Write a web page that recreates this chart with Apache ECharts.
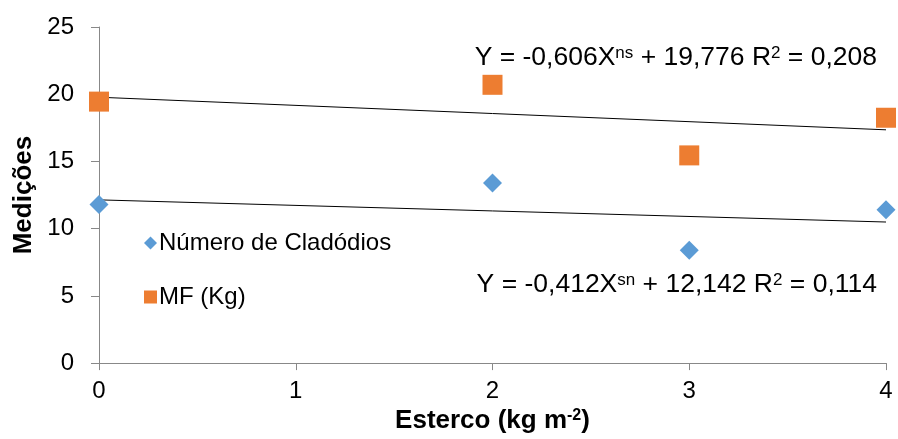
<!DOCTYPE html>
<html><head><meta charset="utf-8">
<script src="https://cdn.jsdelivr.net/npm/echarts@6/dist/echarts.min.js"></script>
<style>html,body{margin:0;padding:0;background:#fff}#c{width:898px;height:439px}</style>
</head><body><div id="c"></div>
<script>
const xValues = [0, 2, 3, 4];
const cladodios = [11.8, 13.4, 8.4, 11.4];
const mf = [19.45, 20.7, 15.45, 18.25];
const trendMF = { slope: -0.606, intercept: 19.776 };
const trendClad = { slope: -0.412, intercept: 12.142 };
const xTicks = [0, 1, 2, 3, 4];
const yTicks = [0, 5, 10, 15, 20, 25];

const F = 'Liberation Sans, Arial, Helvetica, sans-serif';
const chart = echarts.init(document.getElementById('c'), null, {renderer: 'canvas'});
const line = (t) => [[xTicks[0], t.intercept + t.slope * xTicks[0]], [xTicks[xTicks.length-1], t.intercept + t.slope * xTicks[xTicks.length-1]]];
const supStyle = { fontFamily: F, fontSize: 17, fill: '#000', verticalAlign: 'top', padding: [0,0,9,0] };

chart.setOption({
  animation: false,
  backgroundColor: '#fff',
  grid: { left: 99, right: 12, top: 27, bottom: 72 },
  xAxis: {
    type: 'value', min: xTicks[0], max: xTicks[xTicks.length-1], interval: 1,
    name: 'Esterco (kg m{sup|-2})', nameLocation: 'middle', nameGap: 42,
    nameTextStyle: { fontFamily: F, fontSize: 26, fontWeight: 'bold', color: '#000',
      rich: { sup: { fontFamily: F, fontSize: 16, fontWeight: 'bold', color: '#000', verticalAlign: 'top', padding: [0,0,9,0] } } },
    axisLine: { show: true, lineStyle: { color: '#888', width: 1 } },
    axisTick: { show: true, length: 7, lineStyle: { color: '#888' } },
    axisLabel: { fontFamily: F, fontSize: 24, color: '#000', margin: 16 },
    splitLine: { show: false }
  },
  yAxis: {
    type: 'value', min: yTicks[0], max: yTicks[yTicks.length-1], interval: 5,
    name: 'Medições', nameLocation: 'middle', nameGap: 62, nameRotate: 90,
    nameTextStyle: { fontFamily: F, fontSize: 26, fontWeight: 'bold', color: '#000' },
    axisLine: { show: true, lineStyle: { color: '#888', width: 1 } },
    axisTick: { show: true, length: 8, lineStyle: { color: '#888' } },
    axisLabel: { fontFamily: F, fontSize: 24, color: '#000', margin: 25 },
    splitLine: { show: false }
  },
  legend: {
    orient: 'vertical', left: 139, top: 226, itemGap: 30,
    itemWidth: 13, itemHeight: 13,
    textStyle: { fontFamily: F, fontSize: 24, color: '#000', padding: [0,0,0,-3] },
    data: [
      { name: 'Número de Cladódios', icon: 'diamond' },
      { name: 'MF (Kg)', icon: 'rect' }
    ]
  },
  series: [
    { name: 'Trend MF', type: 'line', data: line(trendMF), symbol: 'none', silent: true,
      lineStyle: { color: '#000', width: 1 }, z: 1 },
    { name: 'Trend Clad', type: 'line', data: line(trendClad), symbol: 'none', silent: true,
      lineStyle: { color: '#000', width: 1 }, z: 1 },
    { name: 'Número de Cladódios', type: 'scatter', symbol: 'diamond', symbolSize: 19,
      itemStyle: { color: '#5B9BD5', opacity: 1 }, data: xValues.map((x, i) => [x, cladodios[i]]), z: 3 },
    { name: 'MF (Kg)', type: 'scatter', symbol: 'rect', symbolSize: 20,
      itemStyle: { color: '#ED7D31', opacity: 1 }, data: xValues.map((x, i) => [x, mf[i]]), z: 3 }
  ],
  graphic: [
    { type: 'text', x: 877, y: 58, z: 10,
      style: { text: 'Y = -0,606X{sup|ns} + 19,776 R{sup|2} = 0,208', fontFamily: F, fontSize: 26.5, fill: '#000',
        align: 'right', verticalAlign: 'middle', rich: { sup: supStyle } } },
    { type: 'text', x: 877, y: 285, z: 10,
      style: { text: 'Y = -0,412X{sup|sn} + 12,142 R{sup|2} = 0,114', fontFamily: F, fontSize: 26.5, fill: '#000',
        align: 'right', verticalAlign: 'middle', rich: { sup: supStyle } } }
  ]
});
</script></body></html>
